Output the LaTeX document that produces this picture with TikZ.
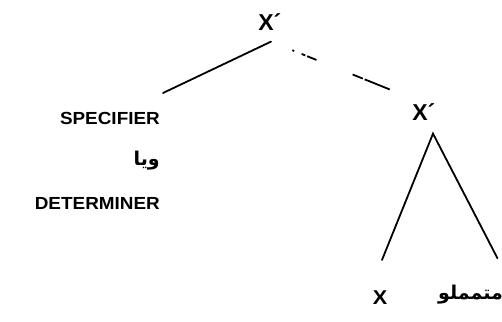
\documentclass[tikz,border=0pt]{standalone}
\usepackage{fontspec}
\setmainfont{Liberation Sans}
\newfontfamily\arabicfont[Script=Arabic]{DejaVu Sans}
\newfontfamily\widefont[FakeStretch=1.08]{Liberation Sans}
\TeXXeTstate=1
\usetikzlibrary{positioning}

\begin{document}
\begin{tikzpicture}[x=1pt,y=1pt,
    every node/.style={inner sep=0pt},
    cat/.style={font=\fontsize{23}{23}\selectfont\bfseries},
    smallcat/.style={font=\fontsize{20}{20}\selectfont\widefont\bfseries},
    word/.style={font=\fontsize{17.5}{17.5}\selectfont\widefont\bfseries,anchor=east},
    fa/.style={font=\fontsize{19}{19}\selectfont\arabicfont\bfseries},
    branch/.style={line width=1.8pt,line cap=round},
    fadebranch/.style={line width=1.8pt,dash pattern=on 0pt off 23pt on 2pt off 8pt on 4pt off 2pt on 10pt off 39pt on 11pt off 2pt on 27pt off 40pt},
]
\useasboundingbox (0,0) rectangle (502,321);
\node[cat] (xbarbar) at (266,299) {X\rlap{´}};
\node[cat] (xbar) at (420,209) {X\rlap{´}};
\node[smallcat] (head) at (380,23) {X};
\node[fa,anchor=east] (comp) at (503,26) {\beginR متمملو\endR};

\node[word] (spec) at (160,203) {SPECIFIER};
\node[fa,anchor=east] (or) at ([yshift=-43pt]spec.east) {\beginR ویا\endR};
\node[word] (det) at ([yshift=-85pt]spec.east) {DETERMINER};

\coordinate (topfoot) at ([xshift=5pt,yshift=-11pt]xbarbar.south);
\coordinate (specroot) at ([xshift=3pt,yshift=25pt]spec.east);
\coordinate (xbarroot) at ([xshift=-28pt,yshift=13pt]xbar.north);
\coordinate (apex) at ([xshift=13pt,yshift=-13pt]xbar.south);
\coordinate (headtop) at ([xshift=2pt,yshift=31pt]head.north);
\coordinate (comptop) at ([xshift=27pt,yshift=27pt]comp.north);

\draw[branch] (specroot) -- (topfoot);
\draw[fadebranch] (topfoot) -- (xbarroot);
\draw[branch] (headtop) -- (apex) -- (comptop);
\end{tikzpicture}
\end{document}
